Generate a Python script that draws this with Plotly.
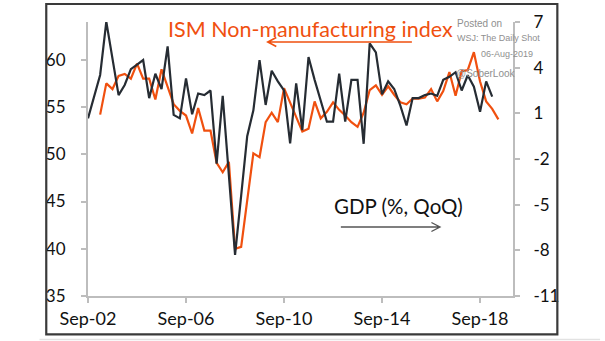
import pandas as pd
import plotly.graph_objects as go

# ---------------- data ----------------
gdp_dates = pd.date_range("2002-09-01", periods=67, freq="3MS")
gdp_qoq = [0.67, 2.09, 3.52, 7.02, 4.7, 2.2, 2.86, 3.9, 4.2, 4.5,
           2.0, 3.6, 2.6, 5.4, 0.9, 0.67, 3.3, 0.94, 2.3, 2.2,
           2.5, -2.3, 2.15, -3.0, -8.3, -4.4, -0.5, 1.2, 4.5, 1.55,
           3.8, 3.1, 2.5, -0.97, 2.97, -0.1, 4.7, 3.2, 1.8, 0.45,
           0.45, 3.6, 0.45, 3.2, 3.2, -1.0, 5.6, 5.0, 2.25, 3.1,
           2.6, 1.5, 0.2, 2.0, 2.0, 2.2, 2.3, 2.15, 3.2, 3.4,
           3.7, 2.5, 3.5, 2.75, 1.1, 3.1, 2.1]

ism_dates = pd.date_range("2003-03-01", periods=66, freq="3MS")
ism_index = [54.2, 57.5, 56.9, 58.3, 58.5, 58.0, 59.6, 58.0, 58.0, 55.8,
             59.0, 57.1, 55.3, 54.6, 54.1, 52.2, 54.9, 52.5, 52.5, 49.1,
             48.1, 49.2, 40.0, 40.2, 45.3, 50.1, 49.7, 53.4, 54.4, 53.4,
             57.0, 55.5, 54.1, 52.4, 52.7, 55.6, 53.8, 54.5, 55.5, 54.7,
             54.1, 53.4, 52.9, 54.4, 56.8, 57.3, 56.3, 57.2, 56.3, 55.5,
             55.3, 55.9, 55.9, 56.0, 56.9, 55.6, 56.7, 58.7, 56.2, 58.8,
             58.9, 60.8, 57.7, 55.6, 54.8, 53.7]

x_tick_dates = ["2002-09-01", "2006-09-01", "2010-09-01", "2014-09-01", "2018-09-01"]
x_tick_text = ["Sep-02", "Sep-06", "Sep-10", "Sep-14", "Sep-18"]
left_ticks = [35, 40, 45, 50, 55, 60]
left_tick_text = ["35", "40", "45", "50", "55", "60"]
right_ticks = [-11, -8, -5, -2, 1, 4, 7]
right_tick_text = ["-11", "-8", "-5", "-2", "1", "4", "7"]

# ---------------- styling ----------------
ORANGE = "#F0500F"
DARK = "#262C33"
AXIS = "#BDBDBD"
FONT = "Lato"
FRAME = "#3A3A3A"

W, H = 605, 341
L, R, T, B = 88.4, 513.0, 22.0, 296.0


def px(x):
    return (x - L) / (R - L)


def py(y):
    return (B - y) / (B - T)


fig = go.Figure()
fig.add_trace(go.Scatter(x=ism_dates, y=ism_index, mode="lines",
                         line=dict(color=ORANGE, width=2.2), yaxis="y",
                         hoverinfo="skip"))
fig.add_trace(go.Scatter(x=gdp_dates, y=gdp_qoq, mode="lines",
                         line=dict(color=DARK, width=2.2), yaxis="y2",
                         hoverinfo="skip"))

fig.update_layout(
    width=W, height=H, autosize=False,
    margin=dict(l=L, r=W - R, t=T, b=H - B, pad=0, autoexpand=False),
    paper_bgcolor="white", plot_bgcolor="white",
    showlegend=False,
    font=dict(family=FONT, color="#111111"),
    xaxis=dict(type="date", range=["2002-09-01", "2020-01-05"],
               tickmode="array", tickvals=x_tick_dates, ticktext=x_tick_text,
               ticks="outside", ticklen=5, tickcolor=AXIS, tickwidth=1.5,
               showline=True, linecolor=AXIS, linewidth=2,
               showgrid=False, zeroline=False, automargin=False,
               tickfont=dict(size=18, family=FONT, color="#111111"),
               ticklabelstandoff=0),
    yaxis=dict(range=[35, 64], tickmode="array", tickvals=left_ticks,
               ticktext=left_tick_text,
               ticks="outside", ticklen=5, tickcolor=AXIS, tickwidth=1.5,
               showline=True, linecolor=AXIS, linewidth=2,
               showgrid=False, zeroline=False, automargin=False,
               tickfont=dict(size=17, family=FONT, color="#111111"),
               ticklabelstandoff=12),
    yaxis2=dict(range=[-11, 7], overlaying="y", side="right",
                tickmode="array", tickvals=right_ticks, ticktext=right_tick_text,
                ticks="outside", ticklen=5, tickcolor=AXIS, tickwidth=1.5,
                showline=True, linecolor=AXIS, linewidth=2,
                showgrid=False, zeroline=False, automargin=False,
                tickfont=dict(size=17, family=FONT, color="#111111"),
                ticklabelstandoff=10),
)

shapes = []
shapes.append(dict(type="rect", xref="paper", yref="paper",
                   x0=px(46.7), x1=px(557.3), y0=py(334.3), y1=py(4),
                   line=dict(color=FRAME, width=2.2)))
shapes.append(dict(type="line", xref="paper", yref="paper",
                   x0=px(40), x1=px(600), y0=py(339.5), y1=py(339.5),
                   line=dict(color="#E2E2E2", width=1.5)))


def arrow_path(x1, x2, y, head, hw):
    d = f"M{px(x1):.5f},{py(y):.5f} L{px(x2):.5f},{py(y):.5f}"
    d += f" M{px(x2 + head):.5f},{py(y - hw):.5f} L{px(x2):.5f},{py(y):.5f} L{px(x2 + head):.5f},{py(y + hw):.5f}"
    return d


shapes.append(dict(type="path", xref="paper", yref="paper",
                   path=arrow_path(412, 268, 42, 8.5, 4.5),
                   line=dict(color=ORANGE, width=1.6)))
shapes.append(dict(type="path", xref="paper", yref="paper",
                   path=arrow_path(341, 440, 227, -8.5, 4.5),
                   line=dict(color="#555555", width=1.4)))
fig.update_layout(shapes=shapes)

ann = []
ann.append(dict(text="ISM Non-manufacturing index", xref="paper", yref="paper",
                x=px(311), y=py(29), xanchor="center", yanchor="middle",
                showarrow=False, font=dict(size=21.5, color=ORANGE, family=FONT)))
ann.append(dict(text="GDP (%, QoQ)", xref="paper", yref="paper",
                x=px(399), y=py(206), xanchor="center", yanchor="middle",
                showarrow=False, font=dict(size=20.5, color="#111111", family=FONT)))
WM_BIG = dict(size=10, color="#8F8F8F", family="Liberation Sans, Arial")
WM_SMALL = dict(size=9, color="#8F8F8F", family="Liberation Sans, Arial")
ann.append(dict(text="Posted on", xref="paper", yref="paper", x=px(455), y=py(23),
                xanchor="left", yanchor="middle", showarrow=False, font=WM_BIG))
ann.append(dict(text="WSJ: The Daily Shot", xref="paper", yref="paper", x=px(455), y=py(38),
                xanchor="left", yanchor="middle", showarrow=False, font=WM_SMALL))
ann.append(dict(text="06-Aug-2019", xref="paper", yref="paper", x=px(535), y=py(54),
                xanchor="right", yanchor="middle", showarrow=False, font=WM_SMALL))
ann.append(dict(text="@SoberLook", xref="paper", yref="paper", x=px(454), y=py(73),
                xanchor="left", yanchor="middle", showarrow=False, font=WM_BIG))
fig.update_layout(annotations=ann)

fig.write_html("out.html")
